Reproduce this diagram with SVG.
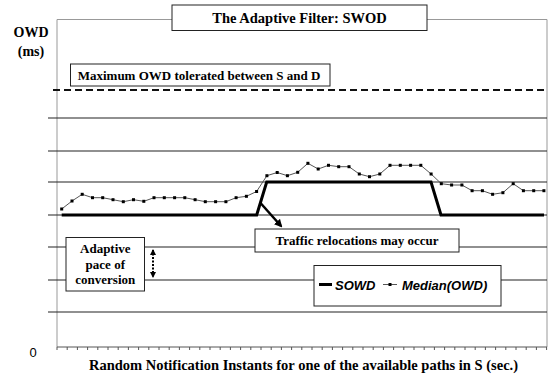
<svg xmlns="http://www.w3.org/2000/svg" width="550" height="385" viewBox="0 0 550 385">
<style>
.serif{font-family:"Liberation Serif","Times New Roman",serif;font-weight:bold;fill:#000}
.sans{font-family:"Liberation Sans",Arial,sans-serif;fill:#000}
.grid{stroke:#222;stroke-width:1.2;fill:none}
.frame{stroke:#999;stroke-width:1;fill:none}
.box{fill:#fff;stroke:#222;stroke-width:1}
.sowd{stroke:#000;stroke-width:3;fill:none;stroke-linejoin:miter}
.med{stroke:#555;stroke-width:1;fill:none}
</style>
<defs>
<marker id="ah" markerWidth="8" markerHeight="8" refX="6" refY="4" orient="auto" markerUnits="userSpaceOnUse">
<path d="M0,0 L8,4 L0,8 Z" fill="#000"/>
</marker>
<marker id="ahs" markerWidth="6" markerHeight="6" refX="5" refY="3" orient="auto-start-reverse" markerUnits="userSpaceOnUse">
<path d="M0,0 L6,3 L0,6 Z" fill="#000"/>
</marker>
<marker id="sq" markerWidth="4" markerHeight="4" refX="2" refY="2" markerUnits="userSpaceOnUse">
<rect x="0.5" y="0.5" width="3" height="3" fill="#000"/>
</marker>
</defs>
<rect width="550" height="385" fill="#fff"/>

<g id="frame">
<path class="frame" d="M57,347 V19.5 H547 V347"/>
<line x1="57" y1="347" x2="547" y2="347" stroke="#555" stroke-width="1"/>
<path stroke="#555" stroke-width="1" d="M57,347v3M67.2,347v3M77.4,347v3M87.6,347v3M97.8,347v3M108,347v3M118.2,347v3M128.4,347v3M138.6,347v3M148.8,347v3M159,347v3M169.2,347v3M179.4,347v3M189.6,347v3M199.8,347v3M210,347v3M220.2,347v3M230.4,347v3M240.6,347v3M250.8,347v3M261,347v3M271.2,347v3M281.4,347v3M291.6,347v3M301.8,347v3M312,347v3M322.2,347v3M332.4,347v3M342.6,347v3M352.8,347v3M363,347v3M373.2,347v3M383.4,347v3M393.6,347v3M403.8,347v3M414,347v3M424.2,347v3M434.4,347v3M444.6,347v3M454.8,347v3M465,347v3M475.2,347v3M485.4,347v3M495.6,347v3M505.8,347v3M516,347v3M526.2,347v3M536.4,347v3M546.6,347v3"/>
</g>

<g id="gridlines">
<line x1="53" y1="90" x2="547" y2="90" stroke="#111" stroke-width="2" stroke-dasharray="7,4"/>
<line class="grid" x1="48" y1="118" x2="547" y2="118"/>
<line class="grid" x1="48" y1="151" x2="547" y2="151"/>
<line class="grid" x1="48" y1="182" x2="547" y2="182"/>
<line class="grid" x1="48" y1="215" x2="547" y2="215"/>
<line class="grid" x1="48" y1="247" x2="547" y2="247"/>
<line class="grid" x1="48" y1="280" x2="547" y2="280" stroke="#666"/>
<line class="grid" x1="48" y1="312" x2="547" y2="312"/>
</g>

<g id="axis-labels">
<text class="serif" x="31" y="37" font-size="14" text-anchor="middle">OWD</text>
<text class="serif" x="31" y="56" font-size="14" text-anchor="middle">(ms)</text>
<text class="sans" x="33" y="356.5" font-size="13" text-anchor="middle">0</text>
<text class="serif" x="303.5" y="370" font-size="14.5" text-anchor="middle">Random Notification Instants for one of the available paths in S (sec.)</text>
</g>

<g id="series">
<polyline class="sowd" points="61.7,215 256.7,215 266.7,182 431,182 441,215 544,215"/>
<polyline class="med" marker-start="url(#sq)" marker-mid="url(#sq)" marker-end="url(#sq)" points="61.7,209 72,201 82.2,194.3 92.5,197.7 102.7,197.7 113,199.7 123.3,201.7 133.5,199.7 143.8,201.3 154,197.7 164.3,197.7 174.6,197.7 184.8,197.7 195.1,199.7 205.3,201.7 215.6,201.7 225.9,201.7 236.1,197.7 246.4,196.3 256.6,191.5 266.9,175.7 277.2,172.5 287.4,175.7 297.7,172.3 307.9,163.3 318.2,169 328.5,165.3 338.7,166.7 349,166.7 359.3,174 369.5,176.7 379.8,174 390,165.3 400.3,165.3 410.6,165.3 420.8,165.3 431.1,174 441.3,183.7 451.6,185 461.9,185 472.1,190.7 482.4,190.7 492.6,194.3 502.9,192.7 513.2,183.7 523.4,190.7 533.7,190.7 543.9,190.7"/>
</g>

<g id="connectors">
<line x1="260.5" y1="203" x2="281" y2="226" stroke="#000" stroke-width="2.5" marker-end="url(#ah)"/>
<line x1="153" y1="250" x2="153" y2="277" stroke="#000" stroke-width="2" stroke-dasharray="2,1.5" marker-start="url(#ahs)" marker-end="url(#ahs)"/>
</g>

<g id="title">
<rect class="box" x="172" y="5" width="255" height="25.5" stroke="#000"/>
<text class="serif" x="299.5" y="23" font-size="14.5" text-anchor="middle">The Adaptive Filter: SWOD</text>
</g>

<g id="max-owd">
<rect class="box" x="70.5" y="64" width="259.5" height="22"/>
<text class="serif" x="199" y="79.5" font-size="13" text-anchor="middle">Maximum OWD tolerated between S and D</text>
</g>

<g id="traffic">
<rect class="box" x="255" y="229" width="204" height="23"/>
<text class="serif" x="357" y="245" font-size="13" text-anchor="middle">Traffic relocations may occur</text>
</g>

<g id="adaptive">
<rect class="box" x="66" y="237.5" width="78.5" height="53.5"/>
<text class="serif" x="105.3" y="253" font-size="13" text-anchor="middle">Adaptive</text>
<text class="serif" x="105.3" y="268.5" font-size="13" text-anchor="middle">pace of</text>
<text class="serif" x="105.3" y="284" font-size="13" text-anchor="middle">conversion</text>
</g>

<g id="legend">
<rect class="box" x="314" y="265.5" width="187" height="40.5" stroke="#666"/>
<line x1="319" y1="284.5" x2="332" y2="284.5" stroke="#000" stroke-width="3"/>
<text class="sans" x="335" y="289.5" font-size="13" font-weight="bold" font-style="italic">SOWD</text>
<line x1="383" y1="284.5" x2="397" y2="284.5" stroke="#555" stroke-width="1"/>
<rect x="388.5" y="283" width="3" height="3" fill="#000"/>
<text class="sans" x="402" y="289.5" font-size="13" font-weight="bold" font-style="italic">Median(OWD)</text>
</g>
</svg>
